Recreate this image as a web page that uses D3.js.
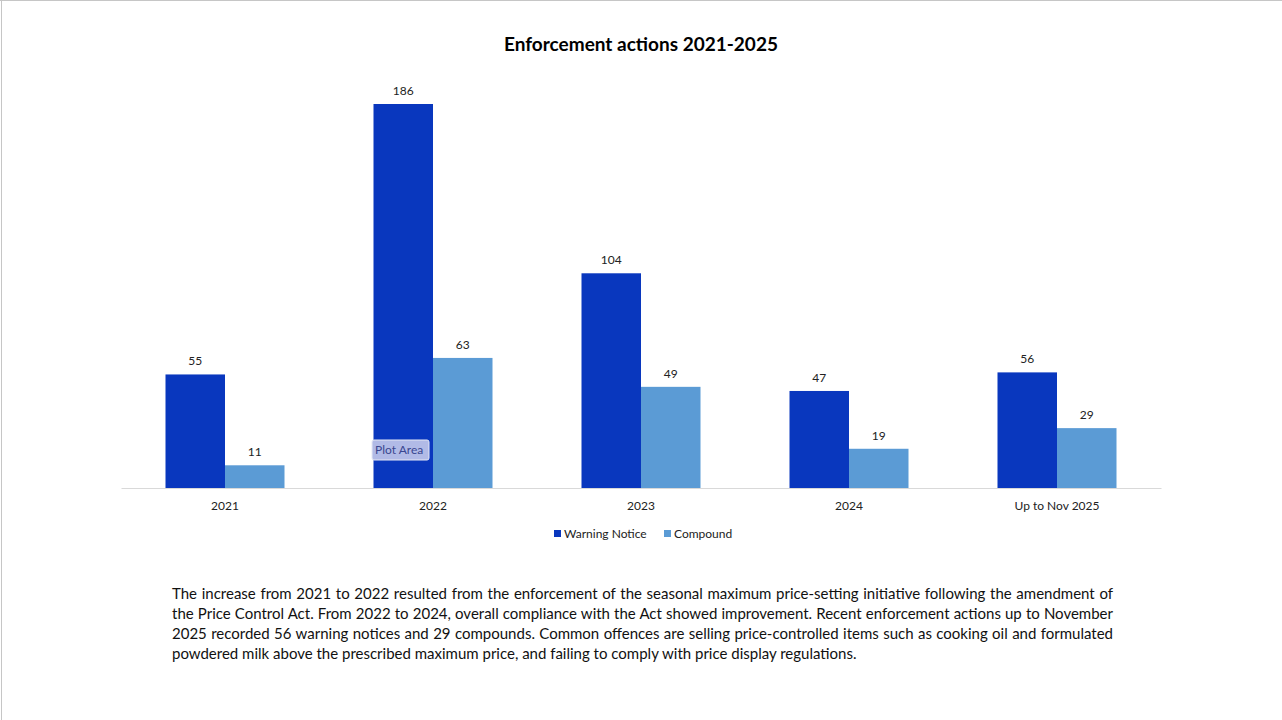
<!DOCTYPE html>
<html>
<head>
<meta charset="utf-8">
<script src="https://cdn.jsdelivr.net/npm/d3@7"></script>
<style>
  body { margin: 0; background: #fff; }
  #wrap { position: relative; width: 1282px; height: 720px; overflow: hidden; }
  svg { position: absolute; left: 0; top: 0; }
  #note { position: absolute; left: 172px; top: 583px; width: 941px;
          font-family: Lato, "Open Sans", sans-serif; font-size: 15px; color: #111; }
  #note div { height: 20px; line-height: 20px; white-space: nowrap; text-align: justify; text-align-last: justify; }
  #note div.last { text-align-last: left; }
</style>
</head>
<body>
<div id="wrap">
  <svg id="chart" width="1282" height="720"></svg>
  <div id="note"></div>
</div>
<script>
// chart data
var categories = ["2021", "2022", "2023", "2024", "Up to Nov 2025"];
var seriesNames = ["Warning Notice", "Compound"];
var warningNotice = [55, 186, 104, 47, 56];
var compound = [11, 63, 49, 19, 29];
var seriesColors = ["#0937BE", "#5B9BD5"];
var titleText = "Enforcement actions 2021-2025";
var noteLines = [
  "The increase from 2021 to 2022 resulted from the enforcement of the seasonal maximum price-setting initiative following the amendment of",
  "the Price Control Act. From 2022 to 2024, overall compliance with the Act showed improvement. Recent enforcement actions up to November",
  "2025 recorded 56 warning notices and 29 compounds. Common offences are selling price-controlled items such as cooking oil and formulated",
  "powdered milk above the prescribed maximum price, and failing to comply with price display regulations."
];

var svg = d3.select("#chart");
var font = "Lato, 'Open Sans', sans-serif";

// outer frame (top + left edge only)
svg.append("line").attr("x1", 0).attr("x2", 1282).attr("y1", 0.5).attr("y2", 0.5).attr("stroke", "#c6c6c6");
svg.append("line").attr("x1", 1.5).attr("x2", 1.5).attr("y1", 0).attr("y2", 720).attr("stroke", "#c6c6c6");

var plot = { left: 121, right: 1161, top: 104, bottom: 488 };

var x0 = d3.scaleBand().domain(categories).range([plot.left, plot.right]).paddingInner(0).paddingOuter(0);
var x1 = d3.scaleBand().domain(seriesNames).range([0, 119]);
var y = d3.scaleLinear().domain([0, 186]).range([plot.bottom, plot.top]);

var rows = categories.map(function(c, i) {
  return { cat: c, vals: [warningNotice[i], compound[i]] };
});

svg.append("text")
  .attr("x", 641).attr("y", 51)
  .attr("text-anchor", "middle")
  .style("font-family", font).style("font-size", "19px").style("font-weight", "bold")
  .text(titleText);

var groups = svg.selectAll("g.grp").data(rows).enter().append("g")
  .attr("class", "grp")
  .attr("transform", function(d) { return "translate(" + (x0(d.cat) + (x0.bandwidth() - 119) / 2) + ",0)"; });

groups.selectAll("rect").data(function(d) { return d.vals.map(function(v, j) { return { s: seriesNames[j], v: v, j: j }; }); })
  .enter().append("rect")
  .attr("x", function(d) { return x1(d.s); })
  .attr("width", x1.bandwidth())
  .attr("y", function(d) { return y(d.v); })
  .attr("height", function(d) { return y(0) - y(d.v); })
  .attr("fill", function(d) { return seriesColors[d.j]; });

groups.selectAll("text.lbl").data(function(d) { return d.vals.map(function(v, j) { return { s: seriesNames[j], v: v }; }); })
  .enter().append("text")
  .attr("class", "lbl")
  .attr("x", function(d) { return x1(d.s) + x1.bandwidth() / 2; })
  .attr("y", function(d) { return y(d.v) - 9; })
  .attr("text-anchor", "middle")
  .style("font-family", font).style("font-size", "12px").style("fill", "#222")
  .text(function(d) { return d.v; });

// x axis
var xAxis = svg.append("g").attr("transform", "translate(0," + plot.bottom + ")")
  .call(d3.axisBottom(x0).tickSize(0).tickPadding(13));
xAxis.select(".domain").attr("stroke", "#d9d9d9");
xAxis.selectAll("text").style("font-family", font).style("font-size", "12px").style("fill", "#222");

// legend
var legendX = [554, 664];
seriesNames.forEach(function(name, j) {
  svg.append("rect").attr("x", legendX[j]).attr("y", 530).attr("width", 7).attr("height", 7).attr("fill", seriesColors[j]);
  svg.append("text").attr("x", legendX[j] + 10).attr("y", 538)
    .style("font-family", font).style("font-size", "12px").style("fill", "#222")
    .text(name);
});

// "Plot Area" tooltip visible in the reference
var tip = svg.append("g").attr("transform", "translate(372,440)");
tip.append("rect").attr("width", 57).attr("height", 20).attr("rx", 2)
  .attr("fill", "#b1bae6").attr("stroke", "#e6e8f4");
tip.append("text").attr("x", 3).attr("y", 14)
  .style("font-family", font).style("font-size", "12px").style("fill", "#3a4690")
  .text("Plot Area");

d3.select("#note").selectAll("div").data(noteLines).enter().append("div")
  .attr("class", function(d, i) { return i === noteLines.length - 1 ? "last" : null; })
  .text(function(d) { return d; });
</script>
</body>
</html>
